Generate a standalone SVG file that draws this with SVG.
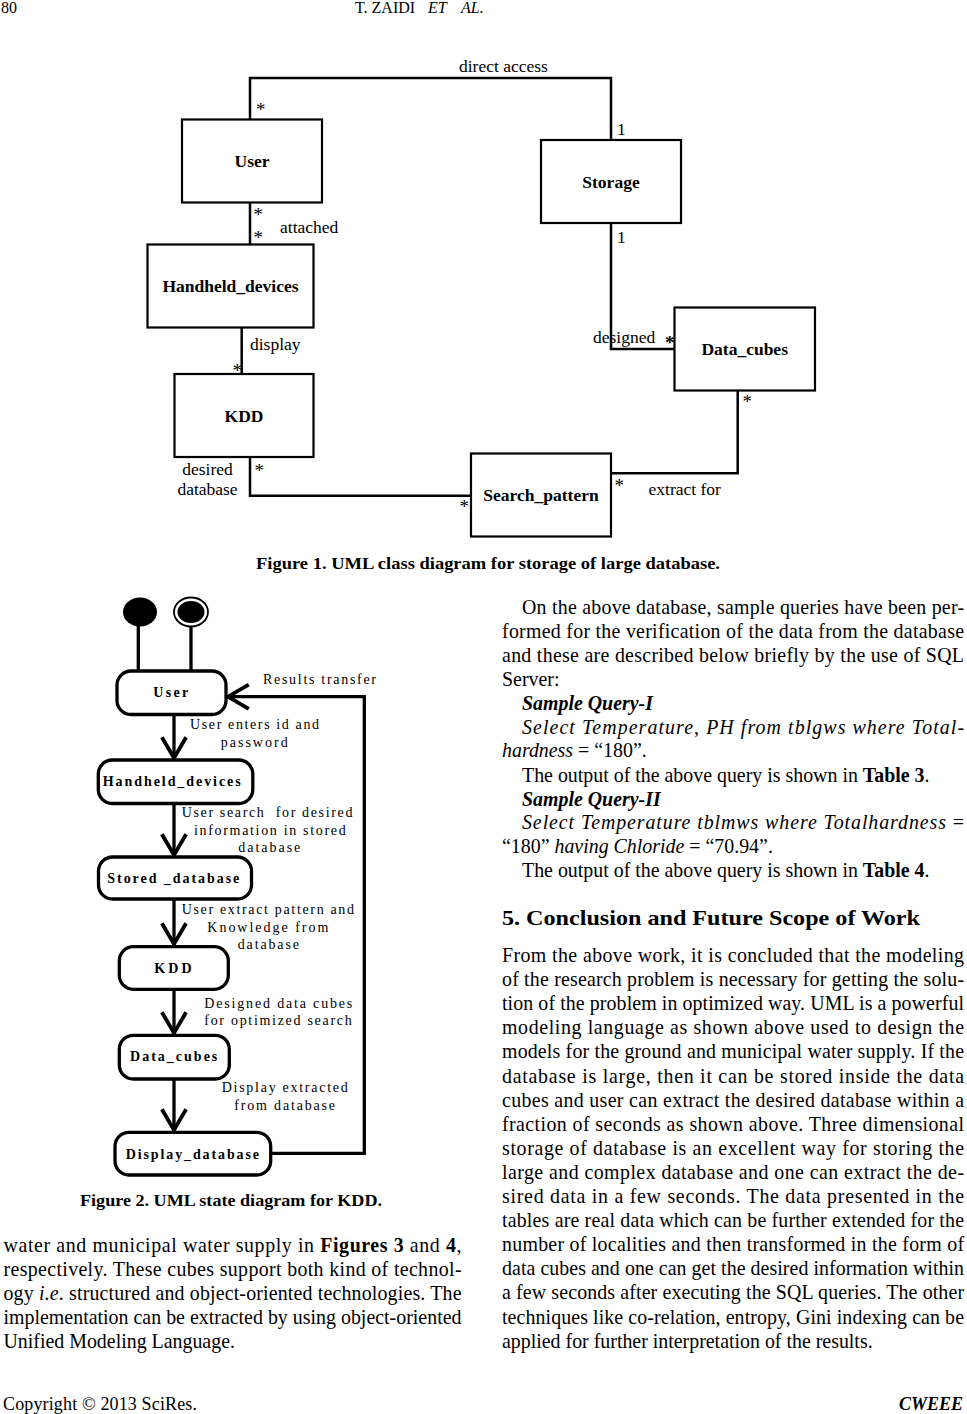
<svg xmlns="http://www.w3.org/2000/svg" width="967" height="1414" viewBox="0 0 967 1414">
<style>
text{font-family:"Liberation Serif","Times New Roman",serif;fill:#000}
.cls{fill:#fff;stroke:#000;stroke-width:2.2}
.clab{font-size:17.5px;font-weight:bold;text-anchor:middle}
.alab{font-size:17.5px}
.mult{font-size:19px}
.cline{fill:none;stroke:#000;stroke-width:2.5}
.st{fill:#fff;stroke:#000;stroke-width:3.3}
.slab{font-size:14px;font-weight:bold}
.tlab{font-size:14px}
.sline{fill:none;stroke:#000;stroke-width:3.3}
.body{font-size:19.9px}
.b{font-weight:bold}
.i{font-style:italic}
.cap{font-size:17.5px;font-weight:bold}
</style>
<defs>
<marker id="vhead" markerUnits="userSpaceOnUse" markerWidth="30" markerHeight="30" viewBox="-22 -13 26 26" refX="0" refY="0" orient="auto" overflow="visible">
<path d="M-18,-10.5 L0,0 L-18,10.5" fill="none" stroke="#000" stroke-width="3.3"/>
</marker>
</defs>
<rect width="967" height="1414" fill="#fff"/>

<!-- header -->
<g id="header">
<text x="1" y="13" style="font-size:16px">80</text>
<text y="13" style="font-size:16px"><tspan x="355">T. ZAIDI</tspan><tspan x="428" class="i">ET</tspan><tspan x="461" class="i">AL.</tspan></text>
</g>

<!-- Figure 1 connectors -->
<g id="fig1-connectors">
<path class="cline" d="M250,119.5 V78 H611 V140"/>
<path class="cline" d="M250,202.5 V244.5"/>
<path class="cline" d="M241.7,327.5 V374"/>
<path class="cline" d="M611,223 V349 H674.5"/>
<path class="cline" d="M737.7,390.5 V473.3 H611"/>
<path class="cline" d="M250,457 V495.7 H471"/>
<text class="alab" x="459" y="72">direct access</text>
<text class="mult" x="256" y="116">*</text>
<text class="alab" x="617" y="135">1</text>
<text class="mult" x="253.5" y="221">*</text>
<text class="mult" x="253.5" y="244">*</text>
<text class="alab" x="280" y="233">attached</text>
<text class="alab" x="617" y="243">1</text>
<text class="alab" x="593" y="343">designed</text>
<text class="mult b" x="665" y="349">*</text>
<text class="mult" x="742.5" y="408">*</text>
<text class="alab" x="250" y="350">display</text>
<text class="mult" x="232.5" y="377">*</text>
<text class="alab" x="207.5" y="475" text-anchor="middle">desired</text>
<text class="alab" x="207.5" y="495" text-anchor="middle">database</text>
<text class="mult" x="254.5" y="477">*</text>
<text class="mult" x="459.5" y="513">*</text>
<text class="mult" x="614.5" y="492">*</text>
<text class="alab" x="648.5" y="495">extract for</text>
</g>

<!-- Figure 1 nodes -->
<g id="c-user"><rect class="cls" x="182" y="119.5" width="140" height="83"/><text class="clab" x="252" y="167">User</text></g>
<g id="c-storage"><rect class="cls" x="541" y="140" width="140" height="83"/><text class="clab" x="611" y="187.5">Storage</text></g>
<g id="c-handheld"><rect class="cls" x="147.5" y="244.5" width="166" height="83"/><text class="clab" x="230.5" y="292">Handheld_devices</text></g>
<g id="c-kdd"><rect class="cls" x="174.5" y="374" width="139" height="83"/><text class="clab" x="244" y="421.5">KDD</text></g>
<g id="c-datacubes"><rect class="cls" x="674.5" y="307.5" width="140.5" height="83"/><text class="clab" x="744.7" y="355">Data_cubes</text></g>
<g id="c-search"><rect class="cls" x="471" y="453.5" width="140" height="83"/><text class="clab" x="541" y="500.5">Search_pattern</text></g>

<text class="cap" x="256" y="569" textLength="464" lengthAdjust="spacingAndGlyphs">Figure 1. UML class diagram for storage of large database.</text>

<!-- Figure 2 connectors -->
<g id="fig2-connectors">
<path class="sline" d="M138.3,626 V671"/>
<path class="sline" d="M191,626 V671"/>
<path class="sline" d="M174,714.5 V758" marker-end="url(#vhead)"/>
<path class="sline" d="M174,803.5 V855" marker-end="url(#vhead)"/>
<path class="sline" d="M174,899 V944" marker-end="url(#vhead)"/>
<path class="sline" d="M174,989.3 V1033" marker-end="url(#vhead)"/>
<path class="sline" d="M174,1079 V1130" marker-end="url(#vhead)"/>
<path class="sline" d="M270.7,1153.3 H364.3 V696.7 H228" marker-end="url(#vhead)"/>
<text class="tlab" x="263" y="684.3" textLength="113" lengthAdjust="spacing">Results transfer</text>
<text class="tlab" x="190" y="729" textLength="129" lengthAdjust="spacing">User enters id and</text>
<text class="tlab" x="220.7" y="746.7" textLength="67" lengthAdjust="spacing">password</text>
<text class="tlab" x="181.7" y="817.3" textLength="170.7" lengthAdjust="spacing" xml:space="preserve">User search  for desired</text>
<text class="tlab" x="194" y="835" textLength="151.7" lengthAdjust="spacing">information in stored</text>
<text class="tlab" x="238.3" y="852.3" textLength="62" lengthAdjust="spacing">database</text>
<text class="tlab" x="181.7" y="914.3" textLength="172.3" lengthAdjust="spacing">User extract pattern and</text>
<text class="tlab" x="207.3" y="932.3" textLength="121" lengthAdjust="spacing">Knowledge from</text>
<text class="tlab" x="237.7" y="949.3" textLength="61.3" lengthAdjust="spacing">database</text>
<text class="tlab" x="204.3" y="1008.3" textLength="148" lengthAdjust="spacing">Designed data cubes</text>
<text class="tlab" x="204.3" y="1025" textLength="147.4" lengthAdjust="spacing">for optimized search</text>
<text class="tlab" x="221.7" y="1092.3" textLength="126" lengthAdjust="spacing">Display extracted</text>
<text class="tlab" x="234.3" y="1110" textLength="100.7" lengthAdjust="spacing">from database</text>
</g>

<!-- Figure 2 nodes -->
<g id="s-initial"><ellipse cx="140" cy="612" rx="17" ry="14.5" fill="#000"/></g>
<g id="s-final"><ellipse cx="191" cy="612" rx="17" ry="14.5" fill="#fff" stroke="#000" stroke-width="1.8"/><ellipse cx="191" cy="612" rx="13.5" ry="11" fill="#000"/></g>
<g id="s-user"><rect class="st" x="117" y="671" width="109" height="43.5" rx="14"/><text class="slab" x="153.3" y="696.5" textLength="35" lengthAdjust="spacing">User</text></g>
<g id="s-handheld"><rect class="st" x="98.3" y="760" width="154.5" height="43.5" rx="14"/><text class="slab" x="102.7" y="785.5" textLength="138" lengthAdjust="spacing">Handheld_devices</text></g>
<g id="s-stored"><rect class="st" x="98.5" y="857" width="153" height="42" rx="14"/><text class="slab" x="107.3" y="883" textLength="132" lengthAdjust="spacing" xml:space="preserve">Stored _database</text></g>
<g id="s-kdd"><rect class="st" x="119.3" y="946.7" width="109" height="42.6" rx="14"/><text class="slab" x="154.3" y="972.5" textLength="37.3" lengthAdjust="spacing">KDD</text></g>
<g id="s-datacubes"><rect class="st" x="119.3" y="1035.3" width="110" height="43.7" rx="14"/><text class="slab" x="130" y="1060.5" textLength="87.3" lengthAdjust="spacing">Data_cubes</text></g>
<g id="s-display"><rect class="st" x="115" y="1132.3" width="155.7" height="42.7" rx="14"/><text class="slab" x="125.7" y="1158.5" textLength="133.3" lengthAdjust="spacing">Display_database</text></g>

<text class="cap" x="80" y="1206" textLength="302" lengthAdjust="spacingAndGlyphs">Figure 2. UML state diagram for KDD.</text>

<!-- left column text -->
<g id="left-text">
<text class="body" x="3.5" y="1251.7" textLength="458" lengthAdjust="spacing">water and municipal water supply in <tspan class="b">Figures 3</tspan> and <tspan class="b">4</tspan>,</text>
<text class="body" x="3.5" y="1276" textLength="458" lengthAdjust="spacing">respectively. These cubes support both kind of technol-</text>
<text class="body" x="3.5" y="1300.3" textLength="458" lengthAdjust="spacing">ogy <tspan class="i">i.e</tspan>. structured and object-oriented technologies. The</text>
<text class="body" x="3.5" y="1324.3" textLength="458" lengthAdjust="spacing">implementation can be extracted by using object-oriented</text>
<text class="body" x="3.5" y="1348.3">Unified Modeling Language.</text>
</g>

<!-- right column text -->
<g id="right-text">
<text class="body" x="522" y="614" textLength="442" lengthAdjust="spacing">On the above database, sample queries have been per-</text>
<text class="body" x="502" y="638" textLength="462" lengthAdjust="spacing">formed for the verification of the data from the database</text>
<text class="body" x="502" y="662" textLength="462" lengthAdjust="spacing">and these are described below briefly by the use of SQL</text>
<text class="body" x="502" y="686">Server:</text>
<text class="body b i" x="522" y="709.5">Sample Query-I</text>
<text class="body" x="522" y="733.5" textLength="442" lengthAdjust="spacing"><tspan class="i">Select Temperature</tspan>, <tspan class="i">PH from tblgws where Total-</tspan></text>
<text class="body" x="502" y="757"><tspan class="i">hardness</tspan> = “180”.</text>
<text class="body" x="522" y="781.5">The output of the above query is shown in <tspan class="b">Table 3</tspan>.</text>
<text class="body b i" x="522" y="805.5">Sample Query-II</text>
<text class="body" x="522" y="829.3" textLength="442" lengthAdjust="spacing"><tspan class="i">Select Temperature tblmws where Totalhardness</tspan> =</text>
<text class="body" x="502" y="853.3">“180” <tspan class="i">having Chloride</tspan> = “70.94”.</text>
<text class="body" x="522" y="877.3">The output of the above query is shown in <tspan class="b">Table 4</tspan>.</text>

<text class="b" x="502" y="925" style="font-size:21px" textLength="418" lengthAdjust="spacingAndGlyphs">5. Conclusion and Future Scope of Work</text>

<text class="body" x="502" y="962" textLength="462" lengthAdjust="spacing">From the above work, it is concluded that the modeling</text>
<text class="body" x="502" y="986.1" textLength="462" lengthAdjust="spacing">of the research problem is necessary for getting the solu-</text>
<text class="body" x="502" y="1010.2" textLength="462" lengthAdjust="spacing">tion of the problem in optimized way. UML is a powerful</text>
<text class="body" x="502" y="1034.3" textLength="462" lengthAdjust="spacing">modeling language as shown above used to design the</text>
<text class="body" x="502" y="1058.4" textLength="462" lengthAdjust="spacing">models for the ground and municipal water supply. If the</text>
<text class="body" x="502" y="1082.5" textLength="462" lengthAdjust="spacing">database is large, then it can be stored inside the data</text>
<text class="body" x="502" y="1106.6" textLength="462" lengthAdjust="spacing">cubes and user can extract the desired database within a</text>
<text class="body" x="502" y="1130.7" textLength="462" lengthAdjust="spacing">fraction of seconds as shown above. Three dimensional</text>
<text class="body" x="502" y="1154.8" textLength="462" lengthAdjust="spacing">storage of database is an excellent way for storing the</text>
<text class="body" x="502" y="1178.9" textLength="462" lengthAdjust="spacing">large and complex database and one can extract the de-</text>
<text class="body" x="502" y="1203" textLength="462" lengthAdjust="spacing">sired data in a few seconds. The data presented in the</text>
<text class="body" x="502" y="1227.1" textLength="462" lengthAdjust="spacing">tables are real data which can be further extended for the</text>
<text class="body" x="502" y="1251.2" textLength="462" lengthAdjust="spacing">number of localities and then transformed in the form of</text>
<text class="body" x="502" y="1275.3" textLength="462" lengthAdjust="spacing">data cubes and one can get the desired information within</text>
<text class="body" x="502" y="1299.4" textLength="462" lengthAdjust="spacing">a few seconds after executing the SQL queries. The other</text>
<text class="body" x="502" y="1323.5" textLength="462" lengthAdjust="spacing">techniques like co-relation, entropy, Gini indexing can be</text>
<text class="body" x="502" y="1347.6">applied for further interpretation of the results.</text>
</g>

<!-- footer -->
<g id="footer">
<text x="3" y="1409.5" style="font-size:18px" textLength="194" lengthAdjust="spacing">Copyright © 2013 SciRes.</text>
<text class="b i" x="963" y="1409.5" style="font-size:18px" text-anchor="end">CWEEE</text>
</g>
</svg>
